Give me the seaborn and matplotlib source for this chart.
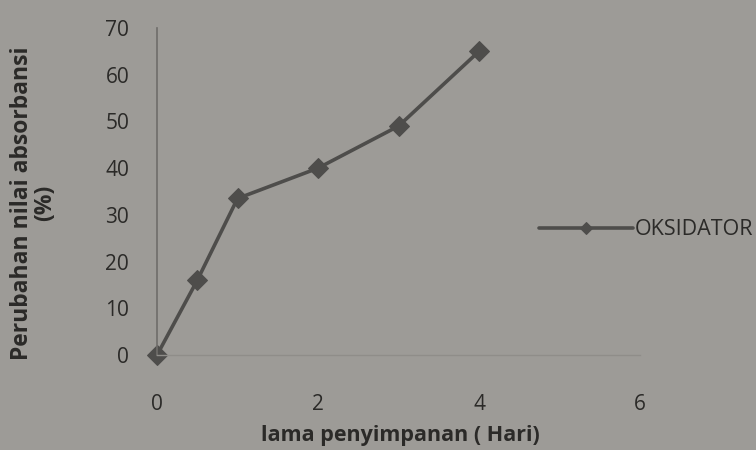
import numpy as np
import pandas as pd
import matplotlib
matplotlib.use('Agg')
import matplotlib.pyplot as plt
import seaborn as sns

# Data
hari = [0, 0.5, 1, 2, 3, 4]
perubahan = [0, 16, 33.5, 40, 49, 65]
seri = 'OKSIDATOR'

df = pd.DataFrame({'hari': hari, 'perubahan': perubahan, 'seri': seri})

sns.set_style('white')
plt.rcParams['font.family'] = ['Open Sans', 'DejaVu Sans']

bg = '#9d9b97'
ink = '#2b2a28'
line_col = '#4e4d4b'

fig = plt.figure(figsize=(7.56, 4.5), dpi=100, facecolor=bg)
ax = fig.add_axes([0.2077, 0.211, 0.639, 0.727])
ax.set_facecolor(bg)

sns.lineplot(data=df, x='hari', y='perubahan', hue='seri', palette=[line_col],
             marker='D', markersize=10, linewidth=2.6, markeredgecolor=line_col,
             ax=ax, clip_on=False)

ax.set_xlim(0, 6)
ax.set_ylim(0, 70)
ax.set_xticks([0, 2, 4, 6])
ax.set_yticks(range(0, 71, 10))
ax.tick_params(axis='both', length=0, labelsize=15, colors=ink)
ax.tick_params(axis='y', pad=20)
ax.tick_params(axis='x', pad=28)

for s in ['top', 'right']:
    ax.spines[s].set_visible(False)
ax.spines['left'].set_color('#6f6d6a')
ax.spines['left'].set_linewidth(1.2)
ax.spines['bottom'].set_color('#8f8d89')
ax.spines['bottom'].set_linewidth(1.0)

ax.set_xlabel('lama penyimpanan ( Hari)', fontsize=15.5, fontweight='bold',
              color=ink)
ax.xaxis.set_label_coords(0.503, -0.215)
ax.set_ylabel('Perubahan nilai absorbansi\n(%)', fontsize=16.5,
              fontweight='bold', color=ink, linespacing=0.95)
ax.yaxis.set_label_coords(-0.207, 0.465)

leg = ax.legend(loc='center left', bbox_to_anchor=(0.79, 0.383),
                frameon=False, fontsize=15.5, handlelength=4.4,
                handletextpad=0.05, markerscale=0.6, borderaxespad=0,
                borderpad=0)
for t in leg.get_texts():
    t.set_color(ink)

fig.savefig('out.png', dpi=100, facecolor=bg)
